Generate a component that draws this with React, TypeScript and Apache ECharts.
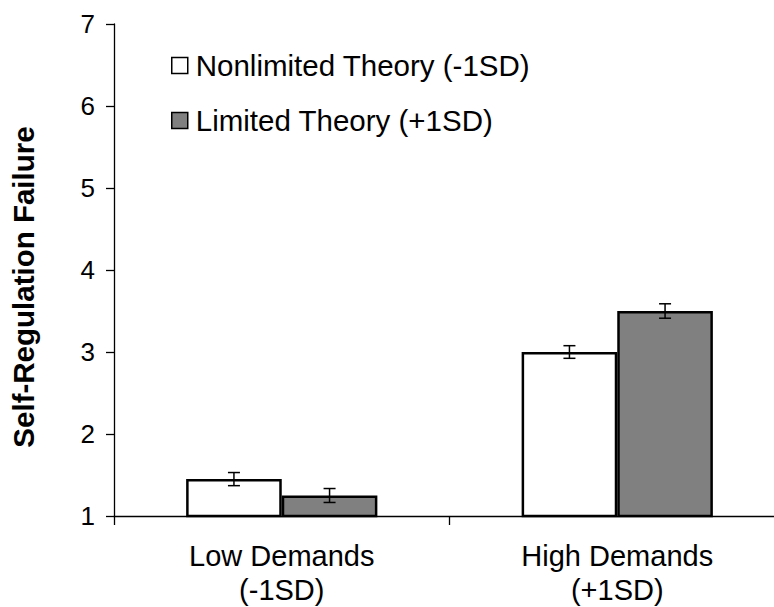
import React, { useEffect, useRef } from "react";
import * as echarts from "echarts";

const categories = ["Low Demands\n(-1SD)", "High Demands\n(+1SD)"];
const seriesNames = ["Nonlimited Theory (-1SD)", "Limited Theory (+1SD)"];
const nonlimitedValues = [1.45, 3.0];
const limitedValues = [1.25, 3.5];
const nonlimitedErrors = [0.08, 0.077];
const limitedErrors = [0.085, 0.088];
const yTicks = [1, 2, 3, 4, 5, 6, 7];

const FONT = "'Liberation Sans', Arial, sans-serif";
const CAT_GAP = 0.43;

function errorSeries(name: string, values: number[], errors: number[], side: number) {
  return {
    type: "custom",
    name: name + " error",
    silent: true,
    z: 5,
    data: values.map((v, i) => [i, v, errors[i]]),
    renderItem: (params: any, api: any) => {
      const i = api.value(0);
      const v = api.value(1);
      const e = api.value(2);
      const catW = api.size([1, 0])[0];
      const barW = (catW * (1 - CAT_GAP)) / 2;
      const base = api.coord([i, v]);
      const x = base[0] + side * (barW / 2);
      const top = api.coord([i, v + e])[1];
      const bot = api.coord([i, v - e])[1];
      const cap = 6;
      const style = { stroke: "#000", lineWidth: 1.5 };
      return {
        type: "group",
        children: [
          { type: "line", shape: { x1: x, y1: top, x2: x, y2: bot }, style },
          { type: "line", shape: { x1: x - cap, y1: top, x2: x + cap, y2: top }, style },
          { type: "line", shape: { x1: x - cap, y1: bot, x2: x + cap, y2: bot }, style },
        ],
      };
    },
  };
}

export default function App() {
  const ref = useRef<HTMLDivElement>(null);
  useEffect(() => {
    if (!ref.current) return;
    const chart = echarts.init(ref.current, null, { renderer: "svg" });
    chart.setOption({
      animation: false,
      backgroundColor: "#fff",
      textStyle: { fontFamily: FONT },
      grid: { left: 111, top: 24, bottom: 87, right: 0 },
      legend: {
        orient: "vertical",
        left: 166,
        top: 45,
        itemWidth: 16,
        itemHeight: 16,
        itemGap: 24,
        icon: "rect",
        data: seriesNames,
        textStyle: {
          fontFamily: FONT,
          fontSize: 29.5,
          color: "#000",
          lineHeight: 31,
          padding: [0, 0, 0, 3],
        },
        itemStyle: { borderColor: "#000", borderWidth: 1.5 },
      },
      xAxis: {
        type: "category",
        data: categories,
        axisLine: { lineStyle: { color: "#000", width: 1.3 } },
        axisTick: { show: true, length: 9, lineStyle: { color: "#000", width: 1.3 } },
        axisLabel: {
          color: "#000",
          fontSize: 29,
          fontFamily: FONT,
          lineHeight: 34,
          margin: 23,
        },
      },
      yAxis: {
        type: "value",
        min: 1,
        max: 7,
        interval: 1,
        name: "Self-Regulation Failure",
        nameLocation: "middle",
        nameGap: 76,
        nameTextStyle: {
          fontFamily: FONT,
          fontSize: 29.5,
          fontWeight: "bold",
          color: "#000",
          padding: [0, 34, 0, 0],
        },
        splitLine: { show: false },
        axisLine: { show: true, lineStyle: { color: "#000", width: 1.3 } },
        axisTick: { show: true, length: 8, lineStyle: { color: "#000", width: 1.3 } },
        axisLabel: {
          color: "#000",
          fontSize: 26,
          fontFamily: FONT,
          margin: 19,
          formatter: (v: number) => (yTicks.includes(v) ? String(v) : ""),
        },
      },
      series: [
        {
          type: "bar",
          name: seriesNames[0],
          data: nonlimitedValues,
          barGap: "0%",
          barCategoryGap: CAT_GAP * 100 + "%",
          itemStyle: { color: "#ffffff", borderColor: "#000", borderWidth: 2.5 },
        },
        {
          type: "bar",
          name: seriesNames[1],
          data: limitedValues,
          barGap: "0%",
          barCategoryGap: CAT_GAP * 100 + "%",
          itemStyle: { color: "#808080", borderColor: "#000", borderWidth: 2.5 },
        },
        errorSeries(seriesNames[0], nonlimitedValues, nonlimitedErrors, -1),
        errorSeries(seriesNames[1], limitedValues, limitedErrors, 1),
      ],
    });
    return () => chart.dispose();
  }, []);
  return (
    <div
      ref={ref}
      style={{ width: 785, height: 607, position: "fixed", left: 0, top: 0 }}
    />
  );
}
